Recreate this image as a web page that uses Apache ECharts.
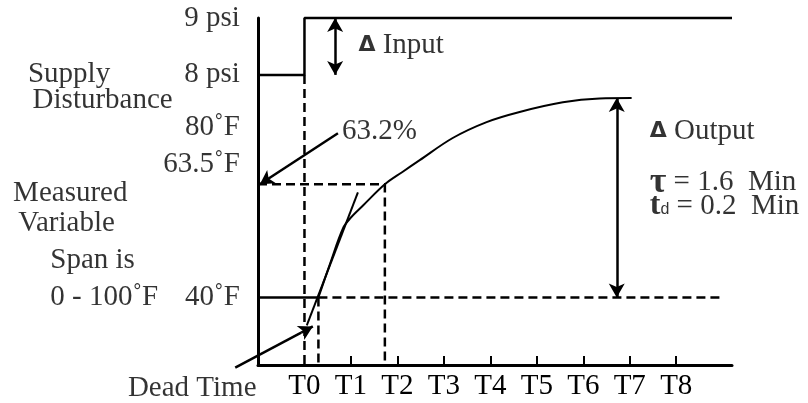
<!DOCTYPE html>
<html><head><meta charset="utf-8">
<script src="https://cdn.jsdelivr.net/npm/echarts@6/dist/echarts.min.js"></script>
<style>html,body{margin:0;padding:0;background:#fff}#c{width:808px;height:403px}</style>
</head><body><div id="c"></div>
<script>
// ---- data ----
const tickValues = [0, 1, 2, 3, 4, 5, 6, 7, 8];
const tickLabels = ['T0', 'T1', 'T2', 'T3', 'T4', 'T5', 'T6', 'T7', 'T8'];
const supplyPsi = [8, 9];            // before / after the step
const stepTime = 0;                  // T0
const deadTimeEnd = 0.3;             // response starts
const baseTempF = 40;
const point632 = [1.73, 63.5];       // 63.2 % point (time, °F)
const responseTime  = [0.3, 0.55, 0.83, 1.0, 1.26, 1.73, 2.1, 2.48, 3.19, 3.92, 4.63, 5.56, 6.35, 7.04];
const responseTempF = [40, 47.0, 54.4, 56.6, 59.1, 63.5, 66.0, 68.5, 73.1, 76.4, 78.5, 80.5, 81.3, 81.4];
const tangentTime  = [0.05, 1.15];
const tangentTempF = [34.2, 61.8];
const outputArrowTime = 6.72;
const inputArrowTime = 0.66;
const finalTempF = 81.4;
const deadTimeArrow = [[-1.49, 25.45], [0.18, 34.0]];
const pctArrow = [[0.72, 74.1], [-0.96, 63.5]];

// ---- axis extents ----
const X_MIN = -1, X_MAX = 9.2;
const T_MIN = 26, T_MAX = 98;   // temperature axis
const P_MIN = 2.9, P_MAX = 9;   // pressure axis

const FONT = 'Liberation Serif';
const FS = 29;
const BLACK = '#000';
const dash = [9, 5];

function seg(data, opts) {
  return Object.assign({
    type: 'line', data: data, symbol: 'none', silent: true, clip: false,
    lineStyle: { color: BLACK, width: 2.5, type: 'solid' }, z: 3
  }, opts || {});
}

const labelsTemp = [
  { value: [-1.39, 75.2], t: '80˚F', a: 'right' },
  { value: [-1.39, 67.6], t: '63.5˚F', a: 'right' },
  { value: [-1.39, 40], t: '40˚F', a: 'right' },
  { value: [-5.95, 86.4], t: 'Supply', a: 'left' },
  { value: [-5.85, 81.0], t: 'Disturbance', a: 'left' },
  { value: [-6.27, 61.7], t: 'Measured', a: 'left' },
  { value: [-6.16, 55.3], t: 'Variable', a: 'left' },
  { value: [-5.47, 47.8], t: 'Span is', a: 'left' },
  { value: [-5.47, 40], t: '0 - 100˚F', a: 'left' },
  { value: [-3.8, 21.2], t: 'Dead Time', a: 'left' },
  { value: [0.81, 74.4], t: '63.2%', a: 'left' },
  { value: [1.16, 92.4], t: '{D|Δ} Input', a: 'left' },
  { value: [7.43, 74.4], t: '{D|Δ} Output', a: 'left' },
  { value: [7.43, 63.8], t: '{tau|τ} = 1.6  Min', a: 'left' },
  { value: [7.43, 59.0], t: '{tt|t}{d|d} = 0.2  Min', a: 'left' }
];
const labelsPsi = [
  { value: [-1.39, supplyPsi[1]], t: '9 psi', a: 'right' },
  { value: [-1.39, supplyPsi[0]], t: '8 psi', a: 'right' }
];
const rich = {
  D: { fontFamily: 'DejaVu Sans', fontWeight: 'bold', fontSize: 22, color: BLACK },
  tau: { fontFamily: FONT, fontWeight: 'bold', fontSize: 36, color: BLACK },
  tt: { fontFamily: FONT, fontWeight: 'bold', fontSize: 32, color: BLACK },
  d: { fontFamily: 'Liberation Sans', fontSize: 16, color: BLACK, padding: [8, 0, 0, 0] }
};
function labelSeries(items, yIdx) {
  return {
    type: 'scatter', yAxisIndex: yIdx, symbolSize: 1, silent: true, clip: false,
    itemStyle: { color: 'rgba(0,0,0,0)' },
    label: { show: true, position: 'inside', verticalAlign: 'middle',
      fontFamily: FONT, fontSize: FS, color: BLACK, rich: rich },
    data: items.map(o => ({ value: o.value, label: { formatter: o.t, align: o.a } })),
    z: 5
  };
}

const arrowStyle = { color: BLACK, width: 2.5, type: 'solid' };
// arrow head segment for dead-time arrow (its tail starts outside the grid)
const dtHeadStart = [
  deadTimeArrow[0][0] + 0.85 * (deadTimeArrow[1][0] - deadTimeArrow[0][0]),
  deadTimeArrow[0][1] + 0.85 * (deadTimeArrow[1][1] - deadTimeArrow[0][1])
];

const option = {
  backgroundColor: '#fff',
  animation: false,
  grid: { left: 258, right: 76, top: 18, bottom: 38, containLabel: false, outerBoundsMode: 'none' },
  xAxis: {
    type: 'value', min: X_MIN, max: X_MAX,
    axisLine: { show: true, onZero: false, lineStyle: { color: BLACK, width: 3 } },
    axisTick: { show: true, inside: true, length: 9, customValues: tickValues.slice(1), lineStyle: { color: BLACK, width: 2 } },
    axisLabel: { show: true, customValues: tickValues, formatter: v => tickLabels[tickValues.indexOf(v)] || '',
      fontFamily: FONT, fontSize: FS, color: BLACK, margin: 7 },
    splitLine: { show: false }
  },
  yAxis: [
    { type: 'value', min: T_MIN, max: T_MAX, position: 'left',
      axisLine: { show: true, onZero: false, lineStyle: { color: BLACK, width: 3 } },
      axisTick: { show: false }, axisLabel: { show: false }, splitLine: { show: false } },
    { type: 'value', min: P_MIN, max: P_MAX, show: false, splitLine: { show: false } }
  ],
  series: [
    // supply step
    seg([[X_MIN, supplyPsi[0]], [stepTime, supplyPsi[0]], [stepTime, supplyPsi[1]], [X_MAX, supplyPsi[1]]], { yAxisIndex: 1 }),
    // dashed at T0
    seg([[stepTime, supplyPsi[0]], [stepTime, P_MIN]], { yAxisIndex: 1, lineStyle: { color: BLACK, width: 2.5, type: dash } }),
    // dead time dashed
    seg([[deadTimeEnd, baseTempF], [deadTimeEnd, T_MIN]], { lineStyle: { color: BLACK, width: 2.5, type: dash } }),
    // 63.2% dashed
    seg([[X_MIN, point632[1]], [point632[0], point632[1]], [point632[0], T_MIN]], { lineStyle: { color: BLACK, width: 2.5, type: dash } }),
    // 40F solid then dashed
    seg([[X_MIN, baseTempF], [deadTimeEnd, baseTempF]]),
    seg([[deadTimeEnd, baseTempF], [9.0, baseTempF]], { lineStyle: { color: BLACK, width: 2.5, type: dash } }),
    // response curve
    seg(responseTime.map((t, i) => [t, responseTempF[i]]), { smooth: 0.35, lineStyle: { color: BLACK, width: 2 }, z: 4 }),
    // tangent
    seg(tangentTime.map((t, i) => [t, tangentTempF[i]]), { lineStyle: { color: BLACK, width: 2 } }),
    // dead time arrow shaft (starts outside the grid) - custom series, not clipped
    {
      type: 'custom', clip: false, silent: true, z: 3,
      data: [[deadTimeArrow[0][0], deadTimeArrow[0][1], dtHeadStart[0], dtHeadStart[1]]],
      encode: { x: [0, 2], y: [1, 3] },
      renderItem: function (params, api) {
        const a = api.coord([api.value(0), api.value(1)]);
        const b = api.coord([api.value(2), api.value(3)]);
        return { type: 'line', shape: { x1: a[0], y1: a[1], x2: b[0], y2: b[1] },
          style: { stroke: BLACK, lineWidth: 2.5 } };
      }
    },
    // arrows on temperature axis
    {
      type: 'line', data: [], clip: false, silent: true,
      markLine: {
        silent: true, animation: false, symbolSize: [12, 14], label: { show: false },
        lineStyle: arrowStyle, emphasis: { disabled: true },
        data: [
          [{ coord: [outputArrowTime, finalTempF], symbol: 'arrow' }, { coord: [outputArrowTime, baseTempF], symbol: 'arrow' }],
          [{ coord: pctArrow[0], symbol: 'none' }, { coord: pctArrow[1], symbol: 'arrow' }],
          [{ coord: dtHeadStart, symbol: 'none' }, { coord: deadTimeArrow[1], symbol: 'arrow' }]
        ]
      }
    },
    {
      type: 'line', yAxisIndex: 1, data: [], clip: false, silent: true,
      markLine: {
        silent: true, animation: false, symbolSize: [12, 14], label: { show: false },
        lineStyle: arrowStyle, emphasis: { disabled: true },
        data: [
          [{ coord: [inputArrowTime, supplyPsi[1]], symbol: 'arrow' }, { coord: [inputArrowTime, supplyPsi[0]], symbol: 'arrow' }]
        ]
      }
    },
    labelSeries(labelsTemp, 0),
    labelSeries(labelsPsi, 1)
  ]
};
const chart = echarts.init(document.getElementById('c'), null, { renderer: 'canvas' });
chart.setOption(option);
</script></body></html>
